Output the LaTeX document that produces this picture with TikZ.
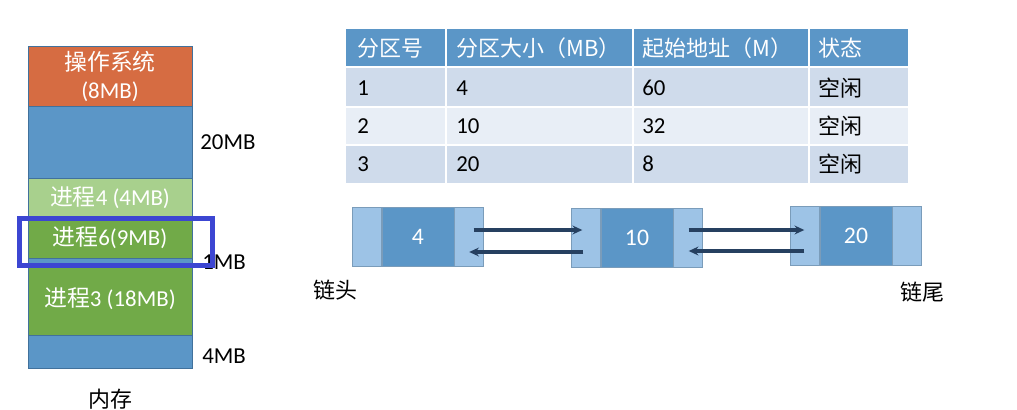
\documentclass[tikz,border=0pt]{standalone}
\usepackage{fontspec}
\setmainfont{Carlito}
\newfontfamily\cjk{Noto Sans CJK SC}
\usetikzlibrary{arrows.meta, positioning}
\definecolor{osorange} {RGB}{214, 108,  66}
\definecolor{freeblue} {RGB}{ 91, 150, 199}
\definecolor{procgreen}{RGB}{113, 170,  72}
\definecolor{proclight}{RGB}{168, 208, 141}
\definecolor{edgeblue} {RGB}{ 65, 113, 156}
\definecolor{rowdark}  {RGB}{207, 219, 235}
\definecolor{rowlight} {RGB}{232, 238, 246}
\definecolor{sideblue} {RGB}{157, 195, 230}
\definecolor{linkdark} {RGB}{ 38,  64,  96}
\definecolor{markblue} {RGB}{ 60,  70, 210}

\tikzset{
  memblock/.style={draw=edgeblue, line width=0.4pt, inner sep=0pt, outer sep=0pt,
    minimum width=164*0.02cm, text=white, align=center,
    font=\fontsize{13}{16}\selectfont},
  sizelabel/.style={anchor=west, inner sep=0pt, font=\fontsize{13}{15}\selectfont},
  headcell/.style={anchor=west, inner sep=0pt, text=white,
    font=\cjk\fontsize{12.5}{14}\selectfont},
  bodycell/.style={anchor=west, inner sep=0pt, font=\fontsize{13}{15}\selectfont},
  cellmid/.style={draw=edgeblue!70, fill=freeblue, inner sep=0pt,
    minimum width=72*0.02cm, minimum height=59*0.02cm, text=white,
    font=\fontsize{13.5}{15}\selectfont},
  cellside/.style={draw=edgeblue!70, fill=sideblue, inner sep=0pt,
    minimum width=29*0.02cm, minimum height=59*0.02cm},
  link/.style={-{Stealth[length=5.5pt, width=5pt]}, line width=1.8pt, linkdark},
  cjklabel/.style={inner sep=0pt, font=\cjk\fontsize{12.5}{14}\selectfont}
}

\begin{document}
\begin{tikzpicture}[x=0.02cm, y=-0.02cm]
  \useasboundingbox (0,0) rectangle (1017,409);

  % Memory column
  \node[memblock, fill=osorange, minimum height=60*0.02cm, anchor=north west]
    (os) at (28,46) {{\cjk 操作系统}\\(8MB)};
  \node[memblock, fill=freeblue, minimum height=72*0.02cm, below=0pt of os] (free1) {};
  \node[memblock, fill=proclight, minimum height=39*0.02cm, below=0pt of free1]
    (p4) {{\cjk 进程}4 (4MB)};
  \node[memblock, fill=procgreen, minimum height=41*0.02cm, below=0pt of p4]
    (p6) {{\cjk 进程}6(9MB)};
  \node[memblock, fill=freeblue, minimum height=5*0.02cm, below=0pt of p6] (free2) {};
  \node[memblock, fill=procgreen, minimum height=72*0.02cm, below=0pt of free2]
    (p3) {{\cjk 进程}3 (18MB)};
  \node[memblock, fill=freeblue, minimum height=33*0.02cm, below=0pt of p3] (free3) {};

  % Sizes of the free blocks
  \node[sizelabel] (s20) at (200,142) {20MB};
  \node[sizelabel] (s1)  at (202,262) {1MB};
  \node[sizelabel] (s4)  at (202,356) {4MB};
  \node[cjklabel] (mem) at (110,399) {内存};

  % Highlight round process 6
  \draw[markblue, line width=2.7pt] (19.5,218.5) rectangle (212.5,265.5);

  % Free partition table
  \fill[freeblue] (346,29) rectangle (908,67);
  \fill[rowdark]  (346,67) rectangle (908,107);
  \fill[rowlight] (346,107) rectangle (908,145);
  \fill[rowdark]  (346,145) rectangle (908,183);
  \draw[white, line width=1.6pt] (346,67) -- (908,67);
  \draw[white, line width=0.8pt] (346,107) -- (908,107) (346,145) -- (908,145);
  \draw[white, line width=0.8pt] (446,29) -- (446,183) (633,29) -- (633,183)
    (809,29) -- (809,183);

  \node[headcell] (h1) at (357,48) {分区号};
  \node[headcell] (h2) at (456,48) {分区大小（MB）};
  \node[headcell] (h3) at (642,48) {起始地址（M）};
  \node[headcell] (h4) at (818,48) {状态};

  \foreach \r/\yy/\sz/\st in {1/88/4/60, 2/126/10/32, 3/164/20/8} {
    \node[bodycell] (no\r) at (357,\yy) {\r};
    \node[bodycell] (sz\r) at (456,\yy) {\sz};
    \node[bodycell] (st\r) at (642,\yy) {\st};
    \node[bodycell, font=\cjk\fontsize{12.5}{14}\selectfont] (fr\r) at (818,\yy) {空闲};
  }

  % Doubly linked free list
  \node[cellmid] (m1) at (418,236.5) {4};
  \node[cellside, left=0pt of m1]  (l1) {};
  \node[cellside, right=0pt of m1] (r1) {};
  \node[cellmid] (m2) at (637,238) {10};
  \node[cellside, left=0pt of m2]  (l2) {};
  \node[cellside, right=0pt of m2] (r2) {};
  \node[cellmid] (m3) at (856,236) {20};
  \node[cellside, left=0pt of m3]  (l3) {};
  \node[cellside, right=0pt of m3] (r3) {};

  \draw[link] ([shift={(4.5,-6.5)}]r1.center) -- ([shift={(-3.5,-6.5)}]r1.center -| l2.center);
  \draw[link] ([shift={(-2.5,14)}]l2.center) -- ([shift={(0,14)}]l2.center -| r1.center);
  \draw[link] ([shift={(0.5,-8)}]r2.center) -- ([shift={(-0.5,-8)}]r2.center -| l3.center);
  \draw[link] ([shift={(-0.5,15)}]l3.center) -- ([shift={(0.5,15)}]l3.center -| r2.center);

  \node[cjklabel] (head) at (335,290) {链头};
  \node[cjklabel] (tail) at (922,292) {链尾};
\end{tikzpicture}
\end{document}
